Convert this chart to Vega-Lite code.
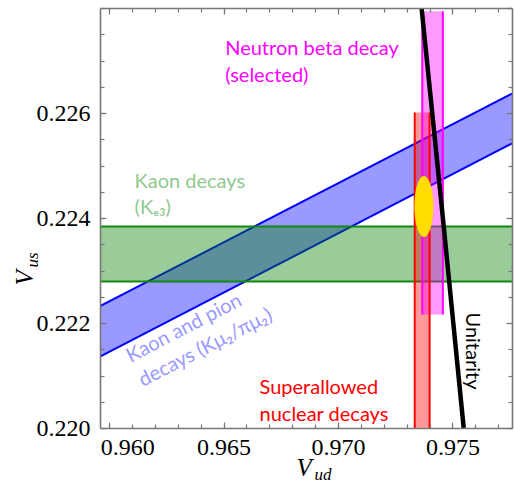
{
  "$schema": "https://vega.github.io/schema/vega-lite/v6.json",
  "autosize": "none",
  "width": 412,
  "height": 420,
  "padding": {"left": 100, "top": 8, "right": 2, "bottom": 55},
  "background": "white",
  "config": {"view": {"stroke": null}},
  "datasets": {
    "blue": [
      {"x": 0.9596, "lo": 0.22136, "hi": 0.22232},
      {"x": 0.9776, "lo": 0.22542, "hi": 0.22637}
    ],
    "green": [{"x1": 0.9596, "x2": 0.9776, "lo": 0.22279, "hi": 0.22384}],
    "red": [{"x1": 0.97335, "x2": 0.974, "lo": 0.22, "hi": 0.22601}],
    "pink": [{"x1": 0.97368, "x2": 0.97458, "lo": 0.22216, "hi": 0.22794}],
    "fit": [{"x": 0.97375, "y": 0.22422}],
    "unitarity": [
      {"x": 0.97365, "y": 0.228},
      {"x": 0.97458, "y": 0.224},
      {"x": 0.97549, "y": 0.22}
    ],
    "labels": [
      {"id": "neutron", "x": 0.96507, "y": 0.22711, "text": "Neutron beta decay\n(selected)"},
      {"id": "ke3", "x": 0.96111, "y": 0.22457, "text": "Kaon decays\n(Kₑ₃)"},
      {"id": "kmu2", "x": 0.96094, "y": 0.22124, "text": "Kaon and pion\ndecays (Kμ₂/πμ₂)"},
      {"id": "super", "x": 0.96657, "y": 0.22065, "text": "Superallowed\nnuclear decays"},
      {"id": "unit", "x": 0.97557, "y": 0.2222, "text": "Unitarity"}
    ]
  },
  "resolve": {"axis": {"x": "independent", "y": "independent"}},
  "layer": [
    {
      "data": {"name": "blue"},
      "mark": {"type": "area", "color": "#0000ff", "opacity": 0.4, "clip": true},
      "encoding": {
        "x": {"field": "x", "type": "quantitative",
          "scale": {"domain": [0.9596, 0.9776], "nice": false, "zero": false},
          "axis": {"orient": "bottom", "values": [0.96, 0.965, 0.97, 0.975], "format": ".3f",
            "tickSize": -6, "tickColor": "#777777", "tickWidth": 1.2,
            "domainColor": "#777777", "domainWidth": 1.6, "grid": false, "zindex": 1,
            "labelFont": "Liberation Serif", "labelFontSize": 24, "labelColor": "black",
            "labelPadding": 13, "labelFlush": false, "labelBound": false, "labelOverlap": false, "labelBaseline": "top",
            "labelOffset": {"condition": {"test": "datum.value < 0.962", "value": 18}, "value": 0},
            "title": "V", "titleFont": "Liberation Serif", "titleFontStyle": "italic",
            "titleFontWeight": "normal", "titleFontSize": 25, "titleColor": "black",
            "titleX": 196, "titleY": 47, "titleAlign": "left", "titleBaseline": "alphabetic"}},
        "y": {"field": "lo", "type": "quantitative",
          "scale": {"domain": [0.22, 0.228], "nice": false, "zero": false},
          "axis": {"orient": "left", "values": [0.22, 0.222, 0.224, 0.226], "format": ".3f",
            "tickSize": -6, "tickColor": "#777777", "tickWidth": 1.2,
            "domainColor": "#777777", "domainWidth": 1.6, "grid": false, "zindex": 1,
            "labelFont": "Liberation Serif", "labelFontSize": 24, "labelColor": "black",
            "labelPadding": 16, "labelFlush": false, "labelBound": false, "labelOverlap": false,
            "title": "V", "titleFont": "Liberation Serif", "titleFontStyle": "italic",
            "titleFontWeight": "normal", "titleFontSize": 25, "titleColor": "black",
            "titleAngle": 270, "titleX": -68, "titleY": 277, "titleAlign": "left", "titleBaseline": "alphabetic"}},
        "y2": {"field": "hi"}
      }
    },
    {
      "data": {"name": "blue"},
      "mark": {"type": "line", "color": "#0000ff", "strokeWidth": 2, "clip": true},
      "encoding": {
        "x": {"field": "x", "type": "quantitative",
          "axis": {"orient": "bottom", "values": [0.96, 0.961, 0.962, 0.963, 0.964, 0.965, 0.966, 0.967, 0.968, 0.969, 0.97, 0.971, 0.972, 0.973, 0.974, 0.975, 0.976, 0.977],
            "tickSize": -4, "tickColor": "#777777", "tickWidth": 1.2, "labels": false, "domain": false, "grid": false, "zindex": 1,
            "title": "ud", "titleFont": "Liberation Serif", "titleFontStyle": "italic",
            "titleFontWeight": "normal", "titleFontSize": 17, "titleColor": "black",
            "titleX": 214, "titleY": 51, "titleAlign": "left", "titleBaseline": "alphabetic"}},
        "y": {"field": "lo", "type": "quantitative",
          "axis": {"orient": "left", "values": [0.22, 0.2205, 0.221, 0.2215, 0.222, 0.2225, 0.223, 0.2235, 0.224, 0.2245, 0.225, 0.2255, 0.226, 0.2265, 0.227, 0.2275, 0.228],
            "tickSize": -4, "tickColor": "#777777", "tickWidth": 1.2, "labels": false, "domain": false, "grid": false, "zindex": 1,
            "title": "us", "titleFont": "Liberation Serif", "titleFontStyle": "italic",
            "titleFontWeight": "normal", "titleFontSize": 17, "titleColor": "black",
            "titleAngle": 270, "titleX": -63, "titleY": 259, "titleAlign": "left", "titleBaseline": "alphabetic"}}
      }
    },
    {
      "data": {"name": "blue"},
      "mark": {"type": "line", "color": "#0000ff", "strokeWidth": 2, "clip": true},
      "encoding": {
        "x": {"field": "x", "type": "quantitative",
          "axis": {"orient": "top", "values": [0.96, 0.965, 0.97, 0.975],
            "tickSize": -6, "tickColor": "#777777", "tickWidth": 1.2, "labels": false,
            "domainColor": "#777777", "domainWidth": 1.6, "grid": false, "zindex": 1, "title": null}},
        "y": {"field": "hi", "type": "quantitative",
          "axis": {"orient": "right", "values": [0.22, 0.222, 0.224, 0.226, 0.228],
            "tickSize": -6, "tickColor": "#777777", "tickWidth": 1.2, "labels": false,
            "domainColor": "#777777", "domainWidth": 1.6, "grid": false, "zindex": 1, "title": null}}
      }
    },
    {
      "data": {"name": "green"},
      "mark": {"type": "rect", "color": "#008000", "opacity": 0.4},
      "encoding": {
        "x": {"field": "x1", "type": "quantitative",
          "axis": {"orient": "top", "values": [0.96, 0.961, 0.962, 0.963, 0.964, 0.965, 0.966, 0.967, 0.968, 0.969, 0.97, 0.971, 0.972, 0.973, 0.974, 0.975, 0.976, 0.977],
            "tickSize": -4, "tickColor": "#777777", "tickWidth": 1.2, "labels": false, "domain": false, "grid": false, "zindex": 1, "title": null}},
        "x2": {"field": "x2"},
        "y": {"field": "lo", "type": "quantitative",
          "axis": {"orient": "right", "values": [0.22, 0.2205, 0.221, 0.2215, 0.222, 0.2225, 0.223, 0.2235, 0.224, 0.2245, 0.225, 0.2255, 0.226, 0.2265, 0.227, 0.2275, 0.228],
            "tickSize": -4, "tickColor": "#777777", "tickWidth": 1.2, "labels": false, "domain": false, "grid": false, "zindex": 1, "title": null}},
        "y2": {"field": "hi"}
      }
    },
    {
      "data": {"name": "green"},
      "mark": {"type": "rule", "color": "#118811", "strokeWidth": 2},
      "encoding": {
        "x": {"field": "x1", "type": "quantitative", "axis": null},
        "x2": {"field": "x2"},
        "y": {"field": "lo", "type": "quantitative", "axis": null}
      }
    },
    {
      "data": {"name": "green"},
      "mark": {"type": "rule", "color": "#118811", "strokeWidth": 2},
      "encoding": {
        "x": {"field": "x1", "type": "quantitative", "axis": null},
        "x2": {"field": "x2"},
        "y": {"field": "hi", "type": "quantitative", "axis": null}
      }
    },
    {
      "data": {"name": "red"},
      "mark": {"type": "rect", "color": "#ff0000", "opacity": 0.4},
      "encoding": {
        "x": {"field": "x1", "type": "quantitative", "axis": null},
        "x2": {"field": "x2"},
        "y": {"field": "lo", "type": "quantitative", "axis": null},
        "y2": {"field": "hi"}
      }
    },
    {
      "data": {"name": "pink"},
      "mark": {"type": "rect", "color": "#ff00ff", "opacity": 0.4},
      "encoding": {
        "x": {"field": "x1", "type": "quantitative", "axis": null},
        "x2": {"field": "x2"},
        "y": {"field": "lo", "type": "quantitative", "axis": null},
        "y2": {"field": "hi"}
      }
    },
    {
      "data": {"name": "red"},
      "mark": {"type": "rule", "color": "#ff0000", "strokeWidth": 2},
      "encoding": {
        "x": {"field": "x1", "type": "quantitative", "axis": null},
        "y": {"field": "lo", "type": "quantitative", "axis": null},
        "y2": {"field": "hi"}
      }
    },
    {
      "data": {"name": "red"},
      "mark": {"type": "rule", "color": "#ff0000", "strokeWidth": 2},
      "encoding": {
        "x": {"field": "x2", "type": "quantitative", "axis": null},
        "y": {"field": "lo", "type": "quantitative", "axis": null},
        "y2": {"field": "hi"}
      }
    },
    {
      "data": {"name": "pink"},
      "mark": {"type": "rule", "color": "#ff00ff", "strokeWidth": 2},
      "encoding": {
        "x": {"field": "x1", "type": "quantitative", "axis": null},
        "y": {"field": "lo", "type": "quantitative", "axis": null},
        "y2": {"field": "hi"}
      }
    },
    {
      "data": {"name": "pink"},
      "mark": {"type": "rule", "color": "#ff00ff", "strokeWidth": 2},
      "encoding": {
        "x": {"field": "x2", "type": "quantitative", "axis": null},
        "y": {"field": "lo", "type": "quantitative", "axis": null},
        "y2": {"field": "hi"}
      }
    },
    {
      "data": {"name": "fit"},
      "mark": {"type": "point", "filled": true, "color": "#ffdd00", "opacity": 1, "strokeWidth": 0, "size": 3721,
        "shape": "M0,-1 C0.1717,-1 0.311,-0.5523 0.311,0 C0.311,0.5523 0.1717,1 0,1 C-0.1717,1 -0.311,0.5523 -0.311,0 C-0.311,-0.5523 -0.1717,-1 0,-1 Z"},
      "encoding": {
        "x": {"field": "x", "type": "quantitative", "axis": null},
        "y": {"field": "y", "type": "quantitative", "axis": null}
      }
    },
    {
      "data": {"name": "unitarity"},
      "mark": {"type": "line", "color": "black", "strokeWidth": 4.5, "clip": true},
      "encoding": {
        "x": {"field": "x", "type": "quantitative", "axis": null},
        "y": {"field": "y", "type": "quantitative", "axis": null},
        "order": {"field": "y", "sort": "descending"}
      }
    },
    {
      "data": {"name": "labels"},
      "transform": [{"filter": "datum.id === 'neutron'"}],
      "mark": {"type": "text", "color": "#ff00ff", "font": "Lato", "fontSize": 20, "align": "left", "baseline": "alphabetic", "lineBreak": "\n", "lineHeight": 27},
      "encoding": {
        "x": {"field": "x", "type": "quantitative", "axis": null},
        "y": {"field": "y", "type": "quantitative", "axis": null},
        "text": {"field": "text"}
      }
    },
    {
      "data": {"name": "labels"},
      "transform": [{"filter": "datum.id === 'ke3'"}],
      "mark": {"type": "text", "color": "#8fc98f", "font": "Lato", "fontSize": 20, "align": "left", "baseline": "alphabetic", "lineBreak": "\n", "lineHeight": 26},
      "encoding": {
        "x": {"field": "x", "type": "quantitative", "axis": null},
        "y": {"field": "y", "type": "quantitative", "axis": null},
        "text": {"field": "text"}
      }
    },
    {
      "data": {"name": "labels"},
      "transform": [{"filter": "datum.id === 'kmu2'"}],
      "mark": {"type": "text", "color": "#9999ff", "font": "Lato", "fontSize": 20, "align": "left", "baseline": "alphabetic", "lineBreak": "\n", "lineHeight": 27, "angle": -27.3},
      "encoding": {
        "x": {"field": "x", "type": "quantitative", "axis": null},
        "y": {"field": "y", "type": "quantitative", "axis": null},
        "text": {"field": "text"}
      }
    },
    {
      "data": {"name": "labels"},
      "transform": [{"filter": "datum.id === 'super'"}],
      "mark": {"type": "text", "color": "#ff0000", "font": "Lato", "fontSize": 20, "align": "left", "baseline": "alphabetic", "lineBreak": "\n", "lineHeight": 27},
      "encoding": {
        "x": {"field": "x", "type": "quantitative", "axis": null},
        "y": {"field": "y", "type": "quantitative", "axis": null},
        "text": {"field": "text"}
      }
    },
    {
      "data": {"name": "labels"},
      "transform": [{"filter": "datum.id === 'unit'"}],
      "mark": {"type": "text", "color": "black", "font": "Lato", "fontSize": 20, "align": "left", "baseline": "alphabetic", "angle": 90},
      "encoding": {
        "x": {"field": "x", "type": "quantitative", "axis": null},
        "y": {"field": "y", "type": "quantitative", "axis": null},
        "text": {"field": "text"}
      }
    }
  ]
}
